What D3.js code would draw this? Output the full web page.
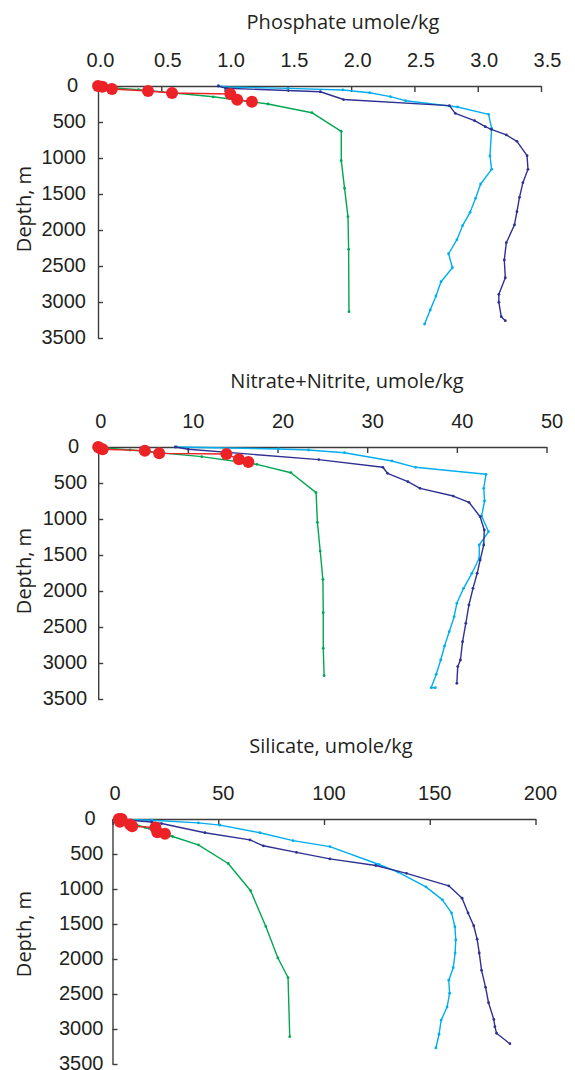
<!DOCTYPE html>
<html>
<head>
<meta charset="utf-8">
<script src="https://cdn.jsdelivr.net/npm/d3@7"></script>
<style>
  html, body { margin: 0; padding: 0; background: #fff; }
  svg { display: block; font-family: "Open Sans", "Noto Sans", sans-serif; }
</style>
</head>
<body>
<svg id="chart" width="575" height="1070"></svg>
<script>
// ---- Tick values ----
const depthTicks = [0, 500, 1000, 1500, 2000, 2500, 3000, 3500];
const phosphateTicks = [0, 0.5, 1.0, 1.5, 2.0, 2.5, 3.0, 3.5];
const nitrateTicks = [0, 10, 20, 30, 40, 50];
const silicateTicks = [0, 50, 100, 150, 200];

// ---- Profiles: [concentration, depth m] ----
const phosphateNavy = [[0.95,0],[1.014,32],[1.757,80],[1.94,188],[2.776,273],[2.823,380],[2.975,482],[3.06,565],[3.107,602],[3.226,680],[3.31,768],[3.39,968],[3.397,1157],[3.357,1343],[3.33,1546],[3.31,1746],[3.29,1930],[3.226,2176],[3.21,2417],[3.218,2663],[3.167,2893],[3.167,3004],[3.186,3204],[3.218,3260]];
const phosphateCyan = [[0.95,0],[1.01,14],[1.5,33],[1.935,55],[2.146,93],[2.31,148],[2.43,204],[2.84,292],[3.086,394],[3.11,588],[3.097,972],[3.11,1157],[3.023,1361],[2.983,1560],[2.94,1754],[2.88,1940],[2.836,2135],[2.77,2330],[2.80,2524],[2.71,2718],[2.67,2917],[2.625,3111],[2.58,3306]];
const phosphateGreen = [[0.0,10],[0.32,50],[0.91,150],[1.343,250],[1.69,371],[1.922,630],[1.922,1037],[1.948,1421],[1.975,1815],[1.98,2268],[1.983,3135]];
const phosphateRed = [[0.0,0],[0.035,10],[0.11,42],[0.395,69],[0.585,97],[1.046,111],[1.10,190],[1.216,218]];

const nitrateNavy = [[8.6,0],[10.05,32],[24.6,175],[31.75,282],[32.27,365],[34.54,482],[35.9,574],[39.6,681],[41.35,768],[42.6,968],[43.06,1153],[43.0,1361],[42.6,1570],[42.27,1754],[41.8,1963],[41.35,2194],[41.0,2449],[40.64,2704],[40.4,2958],[40.1,3050],[40.0,3282]];
const nitrateCyan = [[8.75,0],[20.1,28],[23.45,42],[27.47,79],[32.76,194],[35.4,282],[43.25,379],[43.0,574],[43.09,750],[42.76,958],[43.54,1176],[42.5,1361],[42.5,1546],[41.68,1754],[40.75,1963],[40.0,2171],[39.7,2357],[39.15,2565],[38.63,2764],[38.2,2958],[37.7,3157],[37.14,3343],[37.6,3343]];
const nitrateGreen = [[0.0,5],[3.55,42],[11.55,134],[17.7,241],[21.5,357],[24.3,634],[24.45,1046],[24.76,1445],[25.06,1838],[25.1,2301],[25.1,2796],[25.2,3176]];
const nitrateRed = [[0.0,0],[0.2,18],[0.5,32],[5.2,51],[6.8,88],[14.3,97],[15.7,171],[16.75,208]];

const silicateNavy = [[2,4],[18.5,42],[23.2,65],[43.7,196],[65,299],[71.3,383],[87,477],[102.8,570],[124.5,664],[139,776],[159,955],[165.3,1132],[168.1,1342],[170.8,1525],[172.4,1717],[173.4,1914],[174.5,2162],[176.4,2405],[177.8,2625],[180.3,2864],[180.8,2967],[181.6,3061],[187.9,3210]];
const silicateCyan = [[2,4],[18.5,18],[40.6,56],[50.8,88],[69.7,196],[85.4,309],[102.8,394],[126,650],[135,758],[148.2,969],[156,1156],[160.3,1342],[161.9,1539],[162.3,1727],[162,1914],[161.1,2124],[159,2303],[159.4,2489],[158.2,2686],[155.4,2873],[154.4,3075],[152.9,3271]];
const silicateGreen = [[1.5,5],[8,50],[15.4,121],[28.4,250],[40.6,369],[54.7,636],[65.3,1025],[72.5,1535],[78.2,1985],[83,2265],[83.8,3110]];
const silicateRed = [[3,0],[4.3,0],[3.5,40],[8.3,80],[9.3,105],[20.3,121],[21.2,191],[24.8,210]];

// ---- Styling ----
const palette = { navy: "#2e3192", cyan: "#00aeef", green: "#00a651", red: "#ec2227" };
const axisColor = "#3c3c3c";
const textColor = "#231f20";

const panels = [
  { title: "Phosphate umole/kg", ticks: phosphateTicks, fmt: d3.format(".1f"),
    left: 98, right: 541, top: 86, bottom: 338, titleX: 343, titleY: 29,
    labelDx: 6, yPad: 12, depthLabelY: 209,
    series: [["cyan", phosphateCyan], ["navy", phosphateNavy], ["green", phosphateGreen]], red: phosphateRed },
  { title: "Nitrate+Nitrite, umole/kg", ticks: nitrateTicks, fmt: d3.format("d"),
    left: 98.2, right: 546.5, top: 447, bottom: 699, titleX: 347, titleY: 388,
    labelDx: 5, yPad: 11, depthLabelY: 571,
    series: [["cyan", nitrateCyan], ["navy", nitrateNavy], ["green", nitrateGreen]], red: nitrateRed },
  { title: "Silicate, umole/kg", ticks: silicateTicks, fmt: d3.format("d"),
    left: 112.5, right: 535.5, top: 819, bottom: 1064, titleX: 331, titleY: 753,
    labelDx: 4.5, yPad: 9, depthLabelY: 934,
    series: [["cyan", silicateCyan], ["navy", silicateNavy], ["green", silicateGreen]], red: silicateRed }
];

const svg = d3.select("#chart");
svg.append("rect").attr("width", 575).attr("height", 1070).attr("fill", "#fff");

panels.forEach(p => {
  const x = d3.scaleLinear()
    .domain([p.ticks[0], p.ticks[p.ticks.length - 1]])
    .range([p.left, p.right]);
  const y = d3.scaleLinear()
    .domain([0, 3500])
    .range([p.top, p.bottom]);

  const g = svg.append("g");

  // Title above the concentration axis
  g.append("text")
    .attr("x", p.titleX).attr("y", p.titleY)
    .attr("text-anchor", "middle")
    .attr("font-size", 20).attr("fill", textColor)
    .text(p.title);

  // Depth axis label
  g.append("text")
    .attr("transform", `translate(31,${p.depthLabelY}) rotate(-90)`)
    .attr("text-anchor", "middle")
    .attr("font-size", 20).attr("fill", textColor)
    .text("Depth, m");

  // Concentration axis along the top, ticks pointing into the plot
  const xAxis = g.append("g")
    .attr("transform", `translate(0,${p.top})`)
    .call(d3.axisTop(x).tickValues(p.ticks).tickFormat(p.fmt)
      .tickSizeInner(-6).tickSizeOuter(0).tickPadding(19));
  xAxis.select(".domain").attr("stroke", axisColor).attr("stroke-width", 1.4);
  xAxis.selectAll(".tick line").attr("stroke", axisColor).attr("stroke-width", 1.4);
  xAxis.selectAll(".tick text")
    .attr("font-size", 20).attr("fill", textColor).attr("font-family", null)
    .attr("dx", d => d === 0 ? 2 : p.labelDx);

  // Depth axis on the left, ticks pointing into the plot
  const yAxis = g.append("g")
    .attr("transform", `translate(${p.left},0)`)
    .call(d3.axisLeft(y).tickValues(depthTicks).tickFormat(d3.format("d"))
      .tickSizeInner(-5).tickSizeOuter(0).tickPadding(p.yPad));
  yAxis.select(".domain").attr("stroke", axisColor).attr("stroke-width", 1.4);
  yAxis.selectAll(".tick line").attr("stroke", axisColor).attr("stroke-width", 1.4);
  yAxis.selectAll(".tick text")
    .attr("font-size", 20).attr("fill", textColor).attr("font-family", null)
    .attr("dx", d => d === 0 ? -8 : 0)
    .attr("dy", "0.28em");

  const line = d3.line().x(d => x(d[0])).y(d => y(d[1]));

  // Station profiles with small point markers
  p.series.forEach(([key, data]) => {
    g.append("path")
      .datum(data)
      .attr("d", line)
      .attr("fill", "none")
      .attr("stroke", palette[key])
      .attr("stroke-width", 1.4)
      .attr("stroke-linejoin", "round");
    g.selectAll(null)
      .data(data)
      .join("circle")
      .attr("cx", d => x(d[0])).attr("cy", d => y(d[1]))
      .attr("r", 1.4)
      .attr("fill", palette[key]);
  });

  // Surface samples: red line with large dots
  g.append("path")
    .datum(p.red)
    .attr("d", line)
    .attr("fill", "none")
    .attr("stroke", palette.red)
    .attr("stroke-width", 1.4);
  g.selectAll(null)
    .data(p.red)
    .join("circle")
    .attr("cx", d => x(d[0])).attr("cy", d => y(d[1]))
    .attr("r", 6)
    .attr("fill", palette.red);
});
</script>
</body>
</html>
